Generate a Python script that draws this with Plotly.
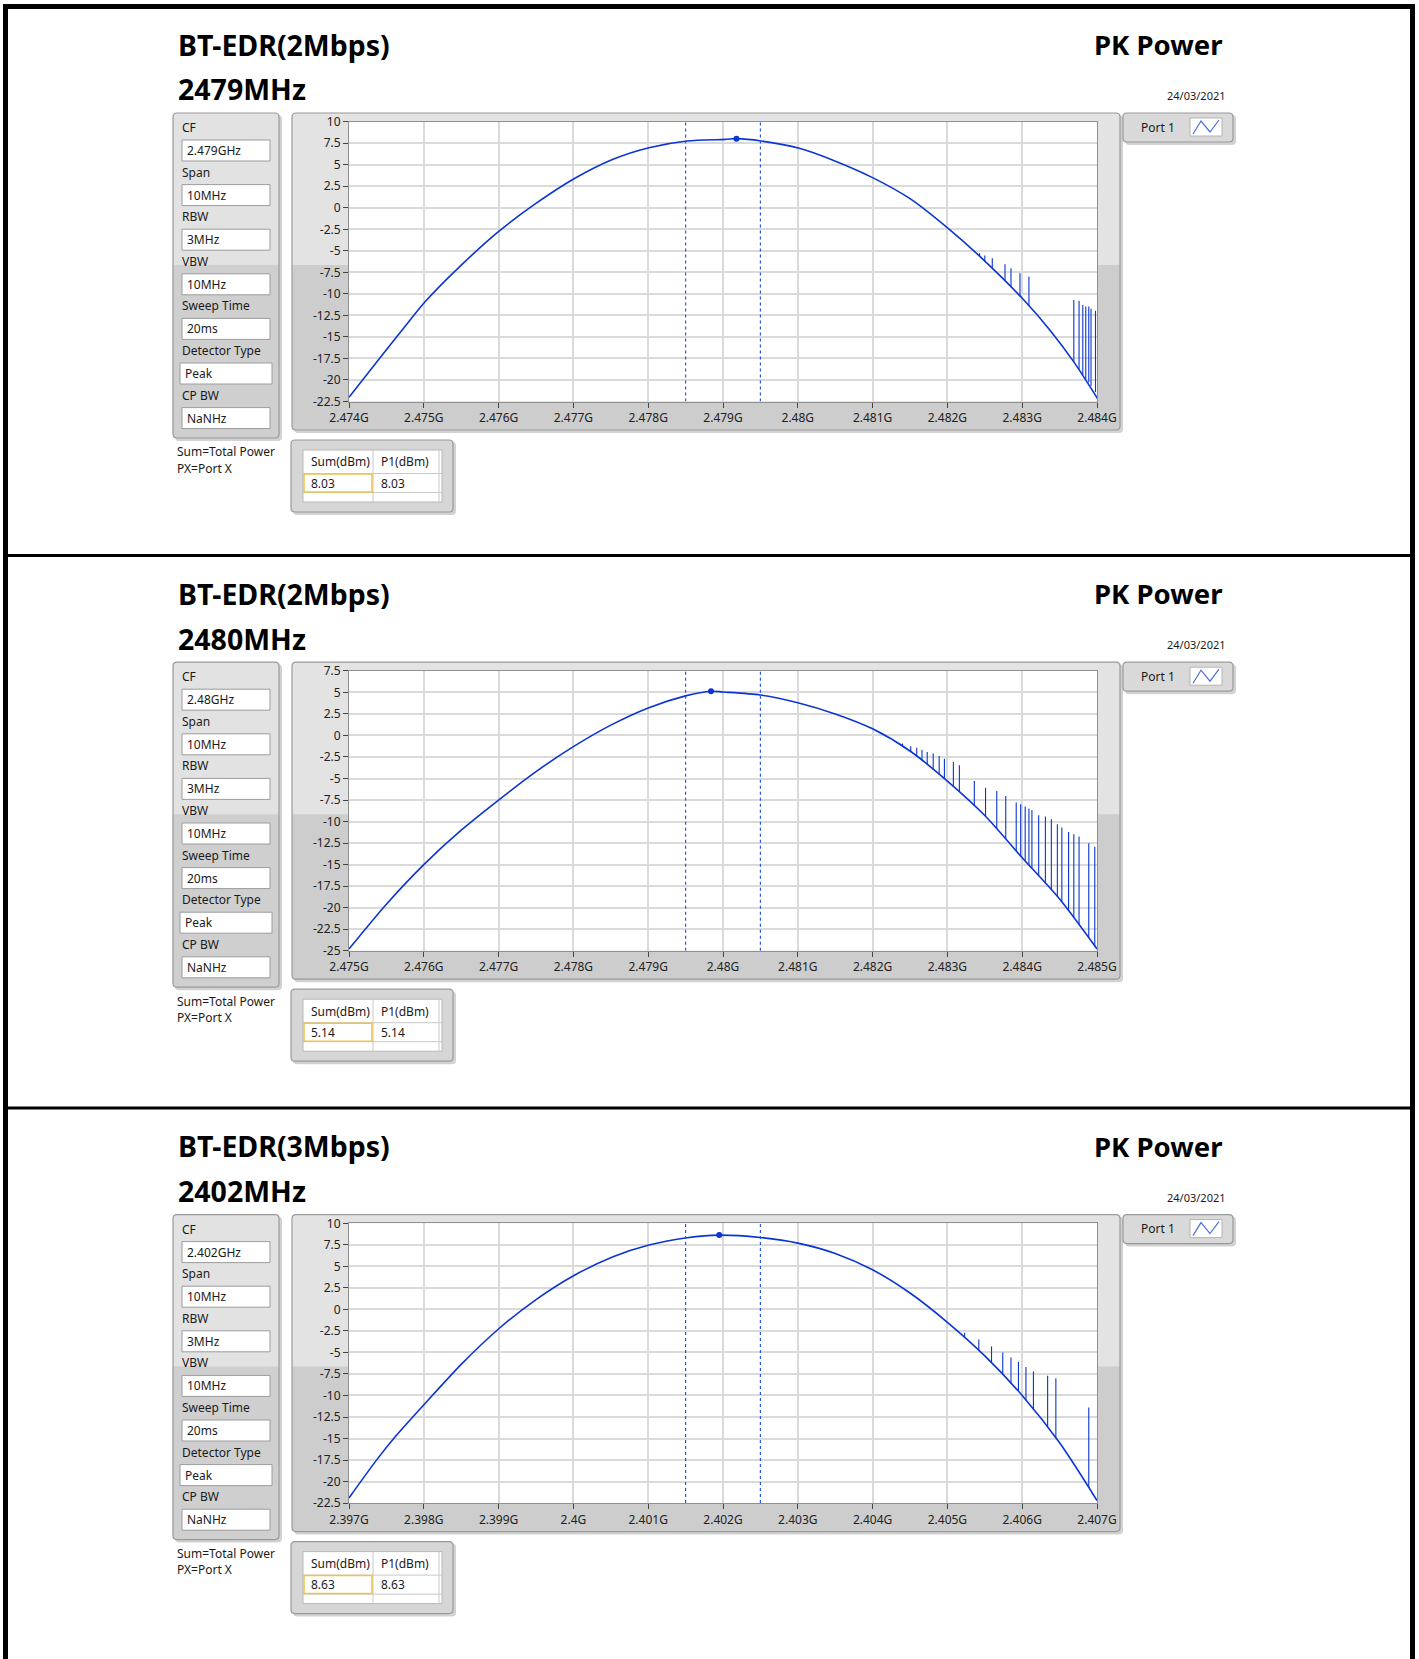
import plotly.graph_objects as go

W, H = 1419, 1659

# ---------------- data ----------------
titles = ["BT-EDR(2Mbps)", "BT-EDR(2Mbps)", "BT-EDR(3Mbps)"]
channels = ["2479MHz", "2480MHz", "2402MHz"]
test_item = "PK Power"
date_text = "24/03/2021"
port_name = "Port 1"
setting_labels = ["CF", "Span", "RBW", "VBW", "Sweep Time", "Detector Type", "CP BW"]
cf_values = ["2.479GHz", "2.48GHz", "2.402GHz"]
other_values = ["10MHz", "3MHz", "10MHz", "20ms", "Peak", "NaNHz"]
legend_notes = ["Sum=Total Power", "PX=Port X"]
table_headers = ["Sum(dBm)", "P1(dBm)"]
sum_dbm = ["8.03", "5.14", "8.63"]
p1_dbm = ["8.03", "5.14", "8.63"]

# Panel A : 2479 MHz
a_freq = [2.4740, 2.47441, 2.47473, 2.47502, 2.47548, 2.47601, 2.47647, 2.47702, 2.47753,
          2.47801, 2.47852, 2.47903, 2.47918, 2.47951, 2.48002, 2.48052, 2.48100, 2.48151,
          2.48201, 2.48249, 2.48301, 2.48338, 2.48369, 2.48401]
a_level = [-22.0, -17.47, -13.98, -10.89, -6.83, -2.69, 0.33, 3.43, 5.64,
           6.98, 7.76, 7.95, 8.03, 7.76, 6.91, 5.36, 3.50, 1.0,
           -2.4, -6.1, -10.6, -14.3, -17.9, -22.2]
a_spike_freq = [2.48243, 2.48250, 2.48260, 2.48277, 2.48285, 2.48297, 2.48309,
                2.48369, 2.48376, 2.48381, 2.48385, 2.48389, 2.48392, 2.48398]
a_spike_base = [-5.6, -6.2, -7.0, -8.5, -9.2, -10.3, -11.4,
                -17.9, -18.8, -19.4, -19.9, -20.3, -20.7, -21.4]
a_spike_top = [-5.28, -5.55, -5.86, -6.55, -7.02, -7.60, -7.99,
               -10.70, -10.81, -11.28, -11.47, -11.47, -11.74, -11.97]
a_peak_freq = 2.47918
a_cursors = [2.4785, 2.4795]
a_xticks = [2.474, 2.475, 2.476, 2.477, 2.478, 2.479, 2.480, 2.481, 2.482, 2.483, 2.484]
a_xticktext = ["2.474G", "2.475G", "2.476G", "2.477G", "2.478G", "2.479G", "2.48G",
               "2.481G", "2.482G", "2.483G", "2.484G"]
a_yticks = [10, 7.5, 5, 2.5, 0, -2.5, -5, -7.5, -10, -12.5, -15, -17.5, -20, -22.5]
a_yticktext = ["10", "7.5", "5", "2.5", "0", "-2.5", "-5", "-7.5", "-10", "-12.5",
               "-15", "-17.5", "-20", "-22.5"]

# Panel B : 2480 MHz
b_freq = [2.4750, 2.4755, 2.4760, 2.4765, 2.4770, 2.4775, 2.4780, 2.4785, 2.4790, 2.4795,
          2.47984, 2.4800, 2.4805, 2.4810, 2.4815, 2.4820, 2.4825, 2.4830, 2.4835, 2.4840,
          2.4845, 2.4850]
b_level = [-24.8, -19.6, -15.0, -11.0, -7.5, -4.2, -1.3, 1.2, 3.2, 4.6,
           5.14, 5.05, 4.7, 3.8, 2.5, 0.77, -1.8, -5.3, -9.3, -14.2,
           -19.0, -24.8]
b_spike_freq = [2.48240, 2.48251, 2.48259, 2.48266, 2.48273, 2.48281, 2.48289, 2.48296,
                2.48308, 2.48316, 2.48336, 2.48351, 2.48366, 2.48378, 2.48392, 2.48398,
                2.48404, 2.48409, 2.48413, 2.48422, 2.48431, 2.48439, 2.48447, 2.48453,
                2.48462, 2.48469, 2.48476, 2.48489, 2.48497]
b_spike_base = [-1.29, -1.87, -2.43, -2.92, -3.41, -3.97, -4.53, -5.02,
                -5.94, -6.58, -8.18, -9.40, -10.87, -12.04, -13.42, -14.0,
                -14.58, -15.06, -15.45, -16.31, -17.18, -17.94, -18.71, -19.35,
                -20.39, -21.2, -22.03, -23.52, -24.45]
b_spike_top = [-0.93, -1.24, -1.43, -1.70, -1.93, -2.08, -2.39, -2.70,
               -3.09, -3.47, -5.29, -6.06, -6.45, -7.03, -7.80, -7.99,
               -8.26, -8.49, -8.65, -9.27, -9.42, -9.73, -10.31, -10.69,
               -11.20, -11.47, -11.74, -12.51, -12.93]
b_peak_freq = 2.47984
b_cursors = [2.4795, 2.4805]
b_xticks = [2.475, 2.476, 2.477, 2.478, 2.479, 2.480, 2.481, 2.482, 2.483, 2.484, 2.485]
b_xticktext = ["2.475G", "2.476G", "2.477G", "2.478G", "2.479G", "2.48G", "2.481G",
               "2.482G", "2.483G", "2.484G", "2.485G"]
b_yticks = [7.5, 5, 2.5, 0, -2.5, -5, -7.5, -10, -12.5, -15, -17.5, -20, -22.5, -25]
b_yticktext = ["7.5", "5", "2.5", "0", "-2.5", "-5", "-7.5", "-10", "-12.5", "-15",
               "-17.5", "-20", "-22.5", "-25"]

# Panel C : 2402 MHz
c_freq = [2.3970, 2.39737, 2.39762, 2.39802, 2.39851, 2.39901, 2.39951, 2.40002, 2.40053,
          2.40101, 2.40152, 2.40195, 2.4025, 2.4030, 2.4035, 2.4040, 2.4045, 2.4050,
          2.4055, 2.4060, 2.4065, 2.4070]
c_level = [-21.9, -17.48, -14.77, -10.9, -6.3, -2.19, 1.2, 4.0, 6.12,
           7.48, 8.33, 8.63, 8.35, 7.7, 6.5, 4.6, 1.9, -1.5,
           -5.4, -10.0, -15.5, -22.2]
c_spike_freq = [2.40523, 2.40542, 2.40559, 2.40574, 2.40585, 2.40595, 2.40605,
                2.40615, 2.40634, 2.40645, 2.40689]
c_spike_base = [-3.3, -4.8, -6.2, -7.6, -8.6, -9.5, -10.55, -11.65, -13.7, -14.95, -20.7]
c_spike_top = [-2.7, -3.5, -4.3, -5.0, -5.6, -6.1, -6.7, -7.2, -7.7, -8.0, -11.4]
c_peak_freq = 2.40195
c_cursors = [2.4015, 2.4025]
c_xticks = [2.397, 2.398, 2.399, 2.400, 2.401, 2.402, 2.403, 2.404, 2.405, 2.406, 2.407]
c_xticktext = ["2.397G", "2.398G", "2.399G", "2.4G", "2.401G", "2.402G", "2.403G",
               "2.404G", "2.405G", "2.406G", "2.407G"]
c_yticks = a_yticks
c_yticktext = a_yticktext

panels = [
    dict(freq=a_freq, level=a_level, sf=a_spike_freq, sb=a_spike_base, st=a_spike_top,
         pk=a_peak_freq, cur=a_cursors, xt=a_xticks, xtt=a_xticktext, yt=a_yticks, ytt=a_yticktext),
    dict(freq=b_freq, level=b_level, sf=b_spike_freq, sb=b_spike_base, st=b_spike_top,
         pk=b_peak_freq, cur=b_cursors, xt=b_xticks, xtt=b_xticktext, yt=b_yticks, ytt=b_yticktext),
    dict(freq=c_freq, level=c_level, sf=c_spike_freq, sb=c_spike_base, st=c_spike_top,
         pk=c_peak_freq, cur=c_cursors, xt=c_xticks, xtt=c_xticktext, yt=c_yticks, ytt=c_yticktext),
]

# ---------------- layout helpers ----------------
PANEL_DY = [0.0, 549.2, 1101.6]
TRACE_BLUE = "#0b35d2"
FONT = "Noto Sans"


def px(x):
    return x / W


def py(y):
    return 1 - y / H


shapes = []
annotations = []


def rect(x0, y0, x1, y1, fill, line=None, lw=1, layer="below"):
    shapes.append(dict(type="rect", xref="paper", yref="paper",
                       x0=px(x0), x1=px(x1), y0=py(y1), y1=py(y0),
                       fillcolor=fill, layer=layer,
                       line=dict(color=line or "rgba(0,0,0,0)", width=lw if line else 0)))


def pt(x, y):
    return f"{px(x):.6f},{py(y):.6f}"


def rrect(x0, y0, x1, y1, r, fill, line=None, lw=1, top_only=False, layer="below"):
    if top_only:
        d = (f"M{pt(x0, y1)} L{pt(x0, y0 + r)} Q{pt(x0, y0)} {pt(x0 + r, y0)} "
             f"L{pt(x1 - r, y0)} Q{pt(x1, y0)} {pt(x1, y0 + r)} L{pt(x1, y1)} Z")
    else:
        d = (f"M{pt(x0 + r, y0)} L{pt(x1 - r, y0)} Q{pt(x1, y0)} {pt(x1, y0 + r)} "
             f"L{pt(x1, y1 - r)} Q{pt(x1, y1)} {pt(x1 - r, y1)} L{pt(x0 + r, y1)} "
             f"Q{pt(x0, y1)} {pt(x0, y1 - r)} L{pt(x0, y0 + r)} Q{pt(x0, y0)} {pt(x0 + r, y0)} Z")
    shapes.append(dict(type="path", xref="paper", yref="paper", path=d,
                       fillcolor=fill, layer=layer,
                       line=dict(color=line or "rgba(0,0,0,0)", width=lw if line else 0)))


def hline(x0, x1, y, color, lw=1):
    shapes.append(dict(type="line", xref="paper", yref="paper", x0=px(x0), x1=px(x1),
                       y0=py(y), y1=py(y), line=dict(color=color, width=lw), layer="below"))


def vline(x, y0, y1, color, lw=1):
    shapes.append(dict(type="line", xref="paper", yref="paper", x0=px(x), x1=px(x),
                       y0=py(y0), y1=py(y1), line=dict(color=color, width=lw), layer="below"))


def text(x, y, s, size=12, anchor="left", bold=False, color="#1a1a1a"):
    annotations.append(dict(x=px(x), y=py(y), xref="paper", yref="paper", text=s,
                            showarrow=False, xanchor=anchor, yanchor="middle",
                            font=dict(family=FONT, size=size, color=color,
                                      weight="bold" if bold else "normal")))


fig = go.Figure()

PLOT_X0, PLOT_X1 = 349.0, 1097.0
PLOT_Y0, PLOT_Y1 = 121.7, 401.5

for i, p in enumerate(panels):
    dy = PANEL_DY[i]
    n = "" if i == 0 else str(i + 1)

    # ---- headings ----
    text(176, 44.5 + dy, titles[i], size=28.5, bold=True, color="#000000")
    text(176, 89.5 + dy, channels[i], size=28.5, bold=True, color="#000000")
    text(1224, 44.5 + dy, test_item, size=27.5, anchor="right", bold=True, color="#000000")
    text(1228, 95.5 + dy, date_text, size=11, anchor="right")

    # ---- settings panel ----
    rrect(175, 115 + dy, 282, 441 + dy, 4, "#d2d2d2")
    rrect(173, 113 + dy, 279, 438 + dy, 4, "#cfcfcf")
    rrect(173, 113 + dy, 279, 265 + dy, 4, "#e2e2e2", top_only=True)
    rrect(173, 113 + dy, 279, 438 + dy, 4, "rgba(0,0,0,0)", line="#9a9a9a", lw=1.2)
    vals = [cf_values[i]] + other_values
    for k, lab in enumerate(setting_labels):
        ly = 127.5 + 44.6 * k + dy
        text(180, ly, lab, size=12)
        by0 = 140 + 44.6 * k + dy
        bx0, bx1 = (180, 272) if lab == "Detector Type" else (182, 270)
        rect(bx0, by0, bx1, by0 + 21, "#ffffff", line="#9c9c9c", lw=1)
        text(bx0 + 3, by0 + 10.5, vals[k], size=12)
    text(175, 452 + dy, legend_notes[0], size=12)
    text(175, 468 + dy, legend_notes[1], size=12)

    # ---- chart frame ----
    rrect(294, 115 + dy, 1123, 433 + dy, 4, "#d2d2d2")
    rrect(292, 113 + dy, 1120, 430 + dy, 4, "#cdcdcd")
    rrect(292, 113 + dy, 1120, 265 + dy, 4, "#e3e3e3", top_only=True)
    rrect(292, 113 + dy, 1120, 430 + dy, 4, "rgba(0,0,0,0)", line="#9a9a9a", lw=1.2)
    rect(PLOT_X0, PLOT_Y0 + dy, PLOT_X1, PLOT_Y1 + dy, "#ffffff")

    # ---- port legend ----
    rrect(1125, 115 + dy, 1236, 145 + dy, 4, "#d2d2d2")
    rrect(1123, 113 + dy, 1233, 142 + dy, 4, "#d9d9d9", line="#9a9a9a", lw=1.2)
    text(1139, 127 + dy, port_name, size=12)
    rect(1190, 118 + dy, 1222, 136 + dy, "#ffffff", line="#b4b4b4", lw=1)
    zig = (f"M{pt(1193, 134 + dy)} L{pt(1201, 121 + dy)} L{pt(1210, 132 + dy)} "
           f"L{pt(1219, 120 + dy)}")
    shapes.append(dict(type="path", xref="paper", yref="paper", path=zig,
                       line=dict(color="#4d6fe0", width=1.2), layer="above"))

    # ---- result table ----
    rrect(293, 442 + dy, 456, 515 + dy, 4, "#d2d2d2")
    rrect(291, 440 + dy, 453, 512 + dy, 4, "#d6d6d6", line="#9a9a9a", lw=1.2)
    rect(303, 450 + dy, 442, 502 + dy, "#ffffff", line="#b8b8b8", lw=1)
    vline(373, 450 + dy, 502 + dy, "#c8c8c8")
    vline(439, 450 + dy, 502 + dy, "#c8c8c8")
    hline(303, 442, 473.5 + dy, "#c8c8c8")
    hline(303, 442, 492.5 + dy, "#c8c8c8")
    rect(304, 474 + dy, 372, 492 + dy, "rgba(0,0,0,0)", line="#f0c24a", lw=1.5)
    text(309, 462 + dy, table_headers[0], size=12)
    text(379, 462 + dy, table_headers[1], size=12)
    text(309, 483 + dy, sum_dbm[i], size=12)
    text(379, 483 + dy, p1_dbm[i], size=12)

    # ---- traces ----
    xa, ya = "x" + n, "y" + n
    fig.add_trace(go.Scatter(x=p["freq"], y=p["level"], mode="lines", xaxis=xa, yaxis=ya,
                             line=dict(color=TRACE_BLUE, width=1.6, shape="spline", smoothing=0.8),
                             hoverinfo="skip", showlegend=False))
    sx, sy = [], []
    for f, b, t in zip(p["sf"], p["sb"], p["st"]):
        sx += [f, f, None]
        sy += [b, t, None]
    fig.add_trace(go.Scatter(x=sx, y=sy, mode="lines", xaxis=xa, yaxis=ya,
                             line=dict(color=TRACE_BLUE, width=1.1),
                             hoverinfo="skip", showlegend=False))
    ymin, ymax = min(p["yt"]), max(p["yt"])
    for c in p["cur"]:
        fig.add_trace(go.Scatter(x=[c, c], y=[ymin, ymax], mode="lines", xaxis=xa, yaxis=ya,
                                 line=dict(color="#2a55e0", width=1.2, dash="3px,3px"),
                                 hoverinfo="skip", showlegend=False))
    fig.add_trace(go.Scatter(x=[p["pk"]], y=[float(sum_dbm[i])], mode="markers",
                             xaxis=xa, yaxis=ya, marker=dict(color=TRACE_BLUE, size=6),
                             hoverinfo="skip", showlegend=False))

    ydom = [py(PLOT_Y1 + dy), py(PLOT_Y0 + dy)]
    axis_common = dict(showgrid=True, gridcolor="#dadada", gridwidth=1.5, zeroline=False,
                       showline=True, linecolor="#8f8f8f", linewidth=1, mirror=True,
                       ticks="outside", ticklen=5, tickcolor="#444444", tickwidth=1,
                       automargin=False,
                       tickfont=dict(family=FONT, size=12, color="#222222"))
    fig.update_layout(**{
        "xaxis" + n: dict(domain=[px(PLOT_X0), px(PLOT_X1)], anchor=ya,
                          range=[p["xt"][0], p["xt"][-1]], tickmode="array",
                          tickvals=p["xt"], ticktext=p["xtt"], **axis_common),
        "yaxis" + n: dict(domain=ydom, anchor=xa, range=[ymin, ymax], tickmode="array",
                          tickvals=p["yt"], ticktext=p["ytt"], **axis_common),
    })

# ---- black page border and separators ----
rect(3, 4, 1415, 9, "#000000", layer="above")
rect(3, 4, 8, H, "#000000", layer="above")
rect(1410, 4, 1415, H, "#000000", layer="above")
rect(3, 554, 1415, 557, "#000000", layer="above")
rect(3, 1106.5, 1415, 1109.5, "#000000", layer="above")

fig.update_layout(width=W, height=H, autosize=False,
                  margin=dict(l=0, r=0, t=0, b=0, pad=0, autoexpand=False),
                  paper_bgcolor="#ffffff", plot_bgcolor="#ffffff",
                  shapes=shapes, annotations=annotations, showlegend=False)

fig.write_html("out.html", config={"displayModeBar": False, "responsive": False},
               post_script="document.body.style.margin='0px';document.body.style.padding='0px';")
